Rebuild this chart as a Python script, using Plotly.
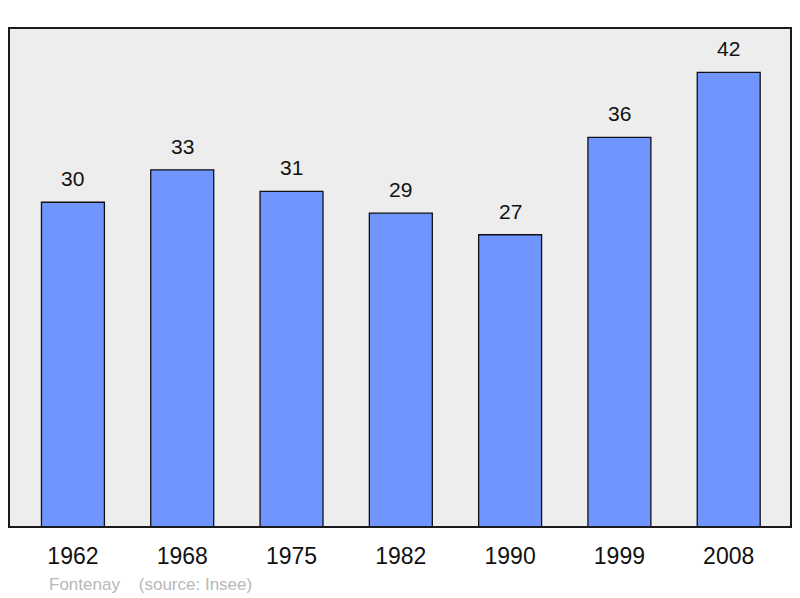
import plotly.graph_objects as go

years = ["1962", "1968", "1975", "1982", "1990", "1999", "2008"]
population = [30, 33, 31, 29, 27, 36, 42]
commune = "Fontenay"
source = "(source: Insee)"

FONT = "Liberation Sans, Arial, sans-serif"

fig = go.Figure()
fig.add_trace(go.Bar(
    x=list(range(len(years))),
    y=population,
    width=0.576,
    marker=dict(color="#7095ff", line=dict(color="#111111", width=1.3)),
    hoverinfo="skip",
))

for i, v in enumerate(population):
    fig.add_annotation(x=i, y=v, text=str(v), showarrow=False,
                       yanchor="bottom", yshift=10,
                       font=dict(family=FONT, size=21, color="#111111"))

fig.add_annotation(xref="paper", yref="paper", x=0.048, y=-0.116,
                   xanchor="left", yanchor="middle", showarrow=False,
                   text=commune + "&nbsp;&nbsp;&nbsp;&nbsp;" + source,
                   font=dict(family=FONT, size=17, color="#b8b8b8"))

fig.add_shape(type="rect", xref="paper", yref="paper", x0=0, y0=0, x1=1, y1=1,
              line=dict(color="#1a1a1a", width=2), layer="above")

fig.update_layout(
    width=792, height=590,
    margin=dict(l=1, r=9, t=20, b=71),
    paper_bgcolor="white",
    plot_bgcolor="#ededed",
    showlegend=False,
    xaxis=dict(range=[-0.585, 6.57], tickmode="array",
               tickvals=list(range(len(years))), ticktext=years,
               ticks="outside", ticklen=8, tickcolor="rgba(0,0,0,0)",
               showgrid=False, zeroline=False,
               tickfont=dict(family=FONT, size=23, color="#111111")),
    yaxis=dict(range=[0, 46.1], showticklabels=False, showgrid=False,
               zeroline=False, ticks=""),
)

fig.write_html("out.html")
